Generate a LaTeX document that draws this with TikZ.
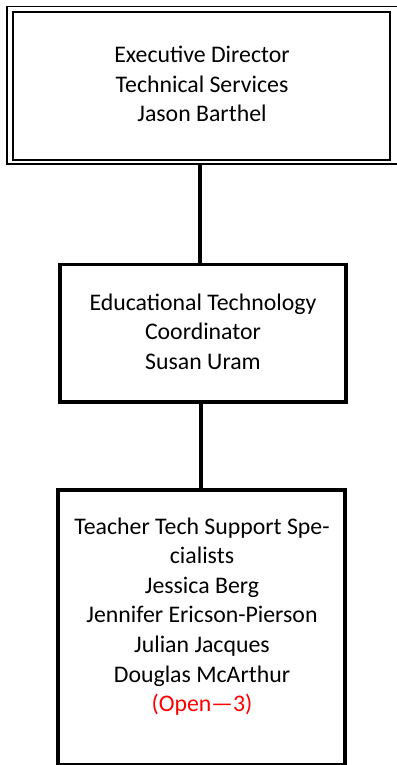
\documentclass[tikz,border=0pt]{standalone}
\usepackage{fontspec}
\setmainfont{Carlito}
\definecolor{openred}{RGB}{255,0,0}
\begin{document}
\begin{tikzpicture}[x=1pt,y=-1pt,
  box/.style={draw, inner sep=0pt, outer sep=0pt},
  txt/.style={align=center, inner sep=0pt, font=\fontsize{23.8}{29.6}\selectfont},
  link/.style={line width=4pt}]
\useasboundingbox (0,0) rectangle (396,765);
% top box (double border)
\node[box, line width=2pt, minimum width=377pt, minimum height=147pt] (top) at (201.5,86) {};
\draw[line width=1.5pt] ([xshift=-6pt,yshift=6pt]top.north west) rectangle ([xshift=8pt,yshift=-4.7pt]top.south east);
\coordinate (topout) at ([yshift=-4.7pt]top.south);
\node[txt] (ttop) at (202,84) {Executive Director\\Technical Services\\Jason Barthel};
% middle box
\node[box, line width=3.5pt, minimum width=286pt, minimum height=137.5pt] (mid) at (203,333.25) {};
\node[txt] (tmid) at (203,331.5) {Educational Technology\\Coordinator\\Susan Uram};
% bottom box
\node[box, line width=4pt, minimum width=287pt, minimum height=275pt] (bot) at (201.5,627.5) {};
\node[txt] (tbot) at (202,616.5) {Teacher Tech Support Spe-\\cialists\\Jessica Berg\\Jennifer Ericson-Pierson\\Julian Jacques\\Douglas McArthur\\\textcolor{openred}{(Open—3)}};
% connectors
\draw[link] (topout -| 200,0) -- (mid.north -| 200,0);
\draw[link] (mid.south -| 201,0) -- (bot.north -| 201,0);
\end{tikzpicture}
\end{document}
